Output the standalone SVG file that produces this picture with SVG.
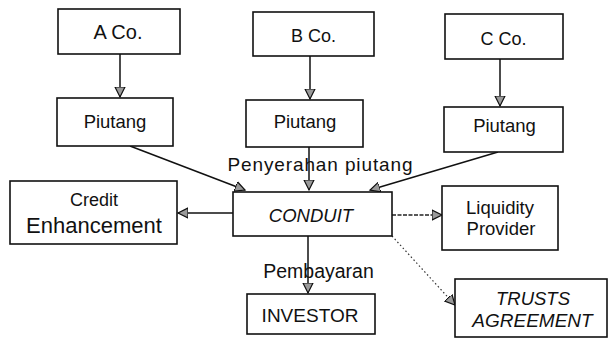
<svg xmlns="http://www.w3.org/2000/svg" width="609" height="340" viewBox="0 0 609 340">
<style>
.box{fill:#fff;stroke:#111;stroke-width:1.6}
.t{font-family:"Liberation Sans",Arial,sans-serif;fill:#111;text-anchor:middle}
.i{font-style:italic}
.ln{fill:none;stroke:#111;stroke-width:1.5}
.dot{fill:none;stroke:#333;stroke-width:1.2;stroke-dasharray:1.5 2.5}
.dash{fill:none;stroke:#222;stroke-width:1.5;stroke-dasharray:4 1.5}
</style>
<defs>
<marker id="ah" markerWidth="12" markerHeight="12" refX="10" refY="5" orient="auto" markerUnits="userSpaceOnUse" viewBox="0 0 12 10">
<path d="M0,0 L10,5 L0,10 Z" fill="#9a9a9a" stroke="#111" stroke-width="1.2" stroke-linejoin="miter"/>
</marker>
</defs>
<rect width="609" height="340" fill="#fff"/>
<g id="connectors">
<line class="ln" x1="120" y1="54" x2="120" y2="97" marker-end="url(#ah)"/>
<line class="ln" x1="310" y1="56" x2="310" y2="99" marker-end="url(#ah)"/>
<line class="ln" x1="500" y1="59" x2="500" y2="106" marker-end="url(#ah)"/>
<line class="ln" x1="130" y1="146" x2="245" y2="190" marker-end="url(#ah)"/>
<line class="ln" x1="309" y1="147" x2="309" y2="190" marker-end="url(#ah)"/>
<line class="ln" x1="498" y1="152" x2="370" y2="190" marker-end="url(#ah)"/>
<line class="ln" x1="233" y1="213" x2="178" y2="213" marker-end="url(#ah)"/>
<line class="dash" x1="392" y1="215" x2="442" y2="215" marker-end="url(#ah)"/>
<line class="ln" x1="308" y1="236" x2="308" y2="293" marker-end="url(#ah)"/>
<line class="dot" x1="392" y1="236" x2="455" y2="305" marker-end="url(#ah)"/>
<text class="t" x="320" y="171" font-size="19" textLength="185" lengthAdjust="spacing">Penyerahan  piutang</text>
<text class="t" x="318.5" y="278" font-size="19.5">Pembayaran</text>
</g>
<g id="aco"><rect class="box" x="58" y="9" width="122" height="45"/><text class="t" x="118" y="39" font-size="20">A Co.</text></g>
<g id="bco"><rect class="box" x="253" y="12" width="121" height="44"/><text class="t" x="313.5" y="42" font-size="18">B Co.</text></g>
<g id="cco"><rect class="box" x="445" y="14" width="118" height="45"/><text class="t" x="503.5" y="45" font-size="18">C Co.</text></g>
<g id="piutangA"><rect class="box" x="57" y="98" width="116" height="48"/><text class="t" x="115" y="128" font-size="18.5">Piutang</text></g>
<g id="piutangB"><rect class="box" x="246" y="100" width="117" height="47"/><text class="t" x="305" y="128" font-size="18.5">Piutang</text></g>
<g id="piutangC"><rect class="box" x="444" y="107" width="119" height="45"/><text class="t" x="504.5" y="132" font-size="18.5">Piutang</text></g>
<g id="credit"><rect class="box" x="10" y="181" width="167" height="63"/><text class="t" x="94" y="206" font-size="18">Credit</text><text class="t" x="94" y="233" font-size="22">Enhancement</text></g>
<g id="conduit"><rect class="box" x="233" y="192" width="159" height="44"/><text class="t i" x="311" y="222" font-size="18.5">CONDUIT</text></g>
<g id="liquidity"><rect class="box" x="442" y="186" width="116" height="64"/><text class="t" x="500" y="214" font-size="18.5">Liquidity</text><text class="t" x="501" y="235" font-size="18.5">Provider</text></g>
<g id="investor"><rect class="box" x="247" y="294" width="128" height="40"/><text class="t" x="310" y="322" font-size="19">INVESTOR</text></g>
<g id="trusts"><rect class="box" x="455" y="279" width="152" height="58"/><text class="t i" x="533" y="305" font-size="18.5">TRUSTS</text><text class="t i" x="532.5" y="327" font-size="19">AGREEMENT</text></g>
</svg>
